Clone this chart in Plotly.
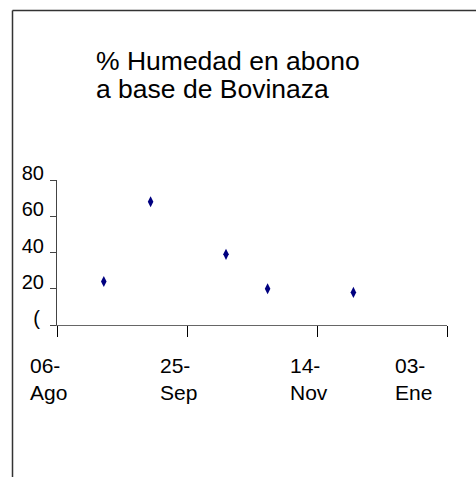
import plotly.graph_objects as go

# muestreo de humedad (%)
fechas = ["2005-08-24", "2005-09-11", "2005-10-10", "2005-10-26", "2005-11-28"]
humedad = [24, 68, 39, 20, 18]

# eje x
x_ticks = ["2005-08-06", "2005-09-25", "2005-11-14", "2006-01-03"]
x_labels = ["06-<br>Ago", "25-<br>Sep", "14-<br>Nov", "03-<br>Ene"]
x_shift = [-29, -29, -29, -54]

# eje y
y_ticks = [0, 20, 40, 60, 80]
y_labels = ["(\u2009", "20", "40", "60", "80"]

titulo = ["% Humedad en abono", "a base de Bovinaza"]

FONT = "Liberation Sans, Arial, sans-serif"
W, H = 476, 477
L, R, T, B = 57, 29, 180, 152
pw, ph = W - L - R, H - T - B


def px_x(x):
    return (x - L) / pw


def px_y(y):
    return (H - B - y) / ph


fig = go.Figure(go.Scatter(
    x=fechas, y=humedad, mode="markers",
    marker=dict(symbol="diamond-tall", size=8, color="#000080"),
    hoverinfo="x+y",
))

# etiquetas del eje x en dos renglones
for t, lab, sh in zip(x_ticks, x_labels, x_shift):
    fig.add_annotation(x=t, xref="x", y=px_y(352), yref="paper",
                       text=lab, showarrow=False, xanchor="left",
                       yanchor="top", align="left", xshift=sh,
                       font=dict(family=FONT, size=21, color="black"))

# titulo
for i, line in enumerate(titulo):
    fig.add_annotation(x=px_x(94), xref="paper", y=px_y(61 + 28 * i),
                       yref="paper", text=line, showarrow=False,
                       xanchor="left", yanchor="middle",
                       font=dict(family=FONT, size=26.5, color="black"))

# marco del grafico (sale por la derecha y abajo)
fig.add_shape(type="line", xref="paper", yref="paper",
              x0=px_x(12.5), x1=px_x(12.5), y0=px_y(490), y1=px_y(10.5),
              line=dict(color="#333", width=1.5))
fig.add_shape(type="line", xref="paper", yref="paper",
              x0=px_x(12.5), x1=px_x(490), y0=px_y(10.5), y1=px_y(10.5),
              line=dict(color="#333", width=1.5))

fig.update_xaxes(type="date", range=[x_ticks[0], x_ticks[-1]],
                 tickvals=x_ticks, showticklabels=False,
                 ticks="outside", ticklen=11, tickcolor="black",
                 showline=True, linecolor="#666", linewidth=1,
                 showgrid=False, zeroline=False)
fig.update_yaxes(range=[0, 80], tickvals=y_ticks, ticktext=y_labels,
                 ticks="outside", ticklen=6, tickcolor="#444",
                 ticklabelshift=-7, ticklabelstandoff=2,
                 showline=True, linecolor="#444", linewidth=1,
                 showgrid=False, zeroline=False,
                 tickfont=dict(family=FONT, size=20, color="black"))

fig.update_layout(width=W, height=H,
                  margin=dict(l=L, r=R, t=T, b=B, pad=0),
                  paper_bgcolor="white", plot_bgcolor="white",
                  showlegend=False, font=dict(family=FONT))

# sin margen del body para que la figura quede en 0,0
fig.write_html("out.html", config={"displayModeBar": False},
               post_script="document.body.style.margin='0';")
